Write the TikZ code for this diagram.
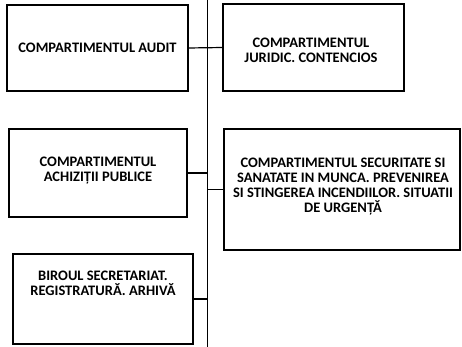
\documentclass[tikz,border=0pt]{standalone}
\usepackage{fontspec}
\setmainfont{Carlito}
\begin{document}
\begin{tikzpicture}[x=1pt,y=-1pt,
  box/.style={draw,line width=1.5pt,rectangle,inner sep=0pt,outer sep=0pt},
  lbl/.style={font=\fontsize{14.5}{15}\selectfont\bfseries,align=center,inner sep=0pt},
  conn/.style={line width=1.2pt},
  spine/.style={line width=0.9pt}]
\useasboundingbox (0,0) rectangle (462,347);
\coordinate (top) at (207,0);
\coordinate (bot) at (207,347);
\draw[spine] (top) -- (bot);
\node[box,minimum width=181pt,minimum height=86pt] (b1) at (97.5,48) {};
\node[lbl] (t1) at (b1.center) {COMPARTIMENTUL AUDIT};
\node[box,minimum width=181pt,minimum height=87pt] (b2) at (313.5,47.5) {};
\node[lbl] (t2) at (311,50) {COMPARTIMENTUL\\JURIDIC. CONTENCIOS};
\node[box,minimum width=178pt,minimum height=88pt] (b3) at (98,173) {};
\node[lbl] (t3) at (98,171) {COMPARTIMENTUL\\ACHIZIȚII PUBLICE};
\node[box,minimum width=236pt,minimum height=121pt] (b4) at (342,189.5) {};
\node[lbl] (t4) at (343,186.5) {COMPARTIMENTUL SECURITATE SI\\SANATATE IN MUNCA. PREVENIREA\\SI STINGEREA INCENDIILOR. SITUATII\\DE URGENȚĂ};
\node[box,minimum width=180pt,minimum height=90pt] (b5) at (103,299) {};
\node[lbl] (t5) at (103,283.5) {BIROUL SECRETARIAT.\\REGISTRATURĂ. ARHIVĂ};
\draw[conn] (b1.east) -- (b2.west);
\draw[conn] (b3.east) -- (b3.east -| top);
\draw[conn] (b4.west) -- (b4.west -| top);
\draw[conn] (b5.east) -- (b5.east -| top);
\end{tikzpicture}
\end{document}
